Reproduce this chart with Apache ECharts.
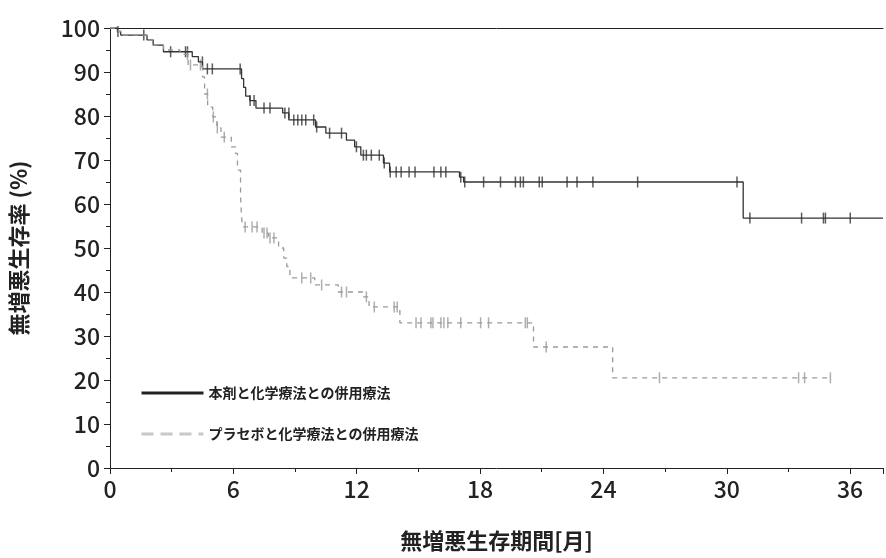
<!DOCTYPE html>
<html>
<head>
<meta charset="utf-8">
<script src="https://cdn.jsdelivr.net/npm/echarts@6.0.0/dist/echarts.min.js"></script>
</head>
<body style="margin:0">
<div id="main" style="width:886px;height:558px;"></div>
<script>
// 本剤群の階段 [月, 生存率]
const drugSteps = [[0,100],[0.36,99.2],[0.52,98.4],[1.8,97.3],[2.1,96.1],[2.6,94.6],[4.0,93.5],[4.3,92.3],
  [4.5,90.7],[6.4,88.5],[6.5,86.5],[6.6,84.5],[6.8,83.5],[7.1,81.8],[8.4,80.7],[8.7,79.1],[10.0,77.5],
  [10.5,76.1],[11.5,74.5],[11.9,73.0],[12.2,71.1],[13.3,69.3],[13.6,67.3],[17.0,66.1],[17.2,65.0],
  [30.8,56.8],[37.6,56.8]];
const drugCensorPx = [115,141,168,183,185,200,205,210,238,248,252,262,268,283,287,292,296,300,304,312,315,
  328,340,355,362,365,370,378,383,389,395,400,408,414,433,440,445,460,464,483,500,515,520,523,539,542,
  567,577,593,638,738,751,803,825,827,852];
// プラセボ群
const placeboSteps = [[0,100],[0.4,99.2],[0.6,98.4],[1.8,97.3],[2.1,96.1],[2.6,95.0],[3.4,94],[3.8,91.6],
  [4.5,88.9],[4.6,85],[4.75,82],[5.0,79.8],[5.2,77.3],[5.4,75.2],[5.9,73],[6.1,71.5],[6.2,67.7],
  [6.35,61.6],[6.4,57],[6.45,54.8],[7.4,53.4],[7.7,52.3],[8.2,50],[8.45,47.7],[8.6,45.8],[8.75,43.2],
  [9.96,41.6],[11.1,40],[12.3,38.9],[12.6,36.6],[14.1,33.0],[20.6,27.5],[24.45,20.5],[35.0,20.5]];
const placeboCensorPx = [185,188,198,205,211,215,222,243,250,255,262,265,268,272,300,309,320,340,345,365,
  373,393,396,415,420,430,432,440,443,447,460,480,488,525,527,546,660,800,806,832];
const xTicks = [0,6,12,18,24,30,36];

const toMonth = px => (px - 107) / 20.69;
function survAt(steps, t) {
  let y = steps[0][1];
  for (const s of steps) { if (s[0] <= t) y = s[1]; }
  return y;
}
const censor = (pxs, steps) => pxs.map(p => { const t = toMonth(p); return [t, survAt(steps, t)]; });

const black = '#333', gray = '#9a9a9a';
const font = 'Noto Sans CJK JP';
const tickFont = { fontFamily: font, fontSize: 23, color: '#222', fontWeight: 500 };
const option = {
  animation: false,
  grid: { left: 107, top: 28, right: 0, bottom: 90 },
  legend: {
    orient: 'vertical', left: 135, top: 381, itemGap: 27, itemWidth: 62, itemHeight: 10,
    itemStyle: { opacity: 0 },
    textStyle: { fontFamily: font, fontSize: 14, color: '#222', fontWeight: 'bold' },
    data: [
      { name: '本剤と化学療法との併用療法', lineStyle: { width: 3, color: '#222' } },
      { name: 'プラセボと化学療法との併用療法', lineStyle: { width: 3, color: '#c8c8c8', type: [12, 7] } }
    ]
  },
  xAxis: [{
    type: 'value', min: 0, max: 37.6, interval: 6,
    name: '無増悪生存期間[月]', nameLocation: 'middle', nameGap: 62,
    nameTextStyle: { fontFamily: font, fontSize: 22, color: '#222', fontWeight: 'bold' },
    axisLine: { lineStyle: { color: '#222' } },
    axisTick: { length: 6, lineStyle: { color: '#222' } },
    minorTick: { show: true, splitNumber: 2, length: 4, lineStyle: { color: '#222' } },
    axisLabel: Object.assign({ margin: 10, formatter: v => xTicks.includes(v) ? String(v) : '' }, tickFont),
    splitLine: { show: false }
  }, {
    type: 'value', position: 'top', min: 0, max: 37.6,
    axisLine: { show: true, lineStyle: { color: '#222' } },
    axisTick: { show: false }, axisLabel: { show: false }, splitLine: { show: false }
  }],
  yAxis: {
    type: 'value', min: 0, max: 100, interval: 10,
    name: '無増悪生存率 (%)', nameLocation: 'middle', nameGap: 80,
    nameTextStyle: { fontFamily: font, fontSize: 22, color: '#222', fontWeight: 'bold' },
    axisLine: { show: true, lineStyle: { color: '#222' } },
    axisTick: { length: 6, lineStyle: { color: '#222' } },
    minorTick: { show: true, splitNumber: 2, length: 4, lineStyle: { color: '#222' } },
    axisLabel: Object.assign({ margin: 10 }, tickFont),
    splitLine: { show: false }
  },
  series: [
    { name: '本剤と化学療法との併用療法', type: 'line', step: 'end', data: drugSteps, symbol: 'none',
      color: black, lineStyle: { color: black, width: 1.3 } },
    { name: 'プラセボと化学療法との併用療法', type: 'line', step: 'end', data: placeboSteps, symbol: 'none',
      color: '#bbb', lineStyle: { color: gray, width: 1.3, type: [5, 5] } },
    { type: 'scatter', data: censor(drugCensorPx, drugSteps), symbol: 'rect', symbolSize: [1.5, 11],
      itemStyle: { color: black } },
    { type: 'scatter', data: censor(placeboCensorPx, placeboSteps), symbol: 'rect', symbolSize: [1.5, 11],
      itemStyle: { color: gray } }
  ]
};
echarts.init(document.getElementById('main')).setOption(option);
</script>
</body>
</html>
